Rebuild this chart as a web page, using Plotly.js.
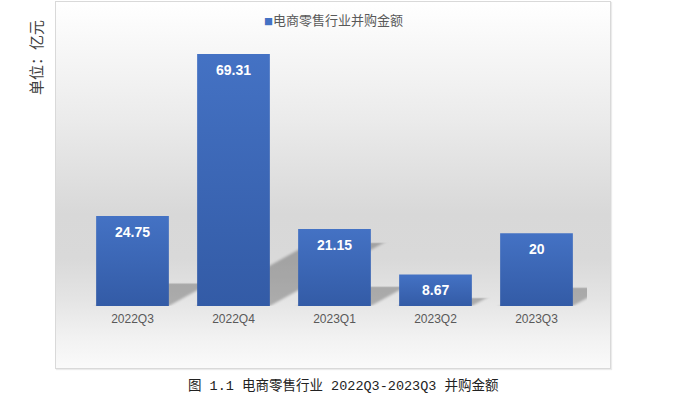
<!DOCTYPE html>
<html>
<head>
<meta charset="utf-8">
<script src="https://cdn.plot.ly/plotly-3.0.1.min.js"></script>
<style>
  html, body { margin: 0; padding: 0; background: #ffffff; }
  #frame {
    position: absolute; left: 55px; top: 1px; width: 554px; height: 366px;
    border: 1px solid #d9d9d9;
    box-shadow: 1px 1px 1px rgba(0,0,0,0.08);
    background: linear-gradient(to bottom, #ffffff 0%, #ebebeb 32%, #d8d8d8 58%, #d9d9d9 70%, #e4e4e4 81%, #f2f2f2 92%, #fafafa 100%);
  }
  #chart { position: absolute; left: 0; top: 0; width: 674px; height: 396px; }
</style>
</head>
<body>
<div id="frame"></div>
<div id="chart"></div>
<script>
const categories = ["2022Q3", "2022Q4", "2023Q1", "2023Q2", "2023Q3"];
const values = [24.75, 69.31, 21.15, 8.67, 20];
const valueLabels = ["24.75", "69.31", "21.15", "8.67", "20"];
const seriesName = "电商零售行业并购金额";
const yTitle = "单位：亿元";
const caption = "图 1.1 电商零售行业 2022Q3-2023Q3 并购金额";
const barColor = "#4472c4";

const trace = {
  type: "bar",
  x: categories,
  y: values,
  name: seriesName,
  marker: { color: "#3d69b9" },
  showlegend: false,
  hoverinfo: "skip"
};

const labelAnnotations = categories.map((c, i) => ({
  x: c, y: values[i], xref: "x", yref: "y",
  text: valueLabels[i], showarrow: false,
  yanchor: "middle", yshift: -16,
  font: { family: "Liberation Sans, Arial, sans-serif", size: 14, color: "#ffffff", weight: "bold" }
}));

const layout = {
  width: 674, height: 396,
  margin: { l: 82, r: 86.5, t: 15, b: 90, autoexpand: false },
  paper_bgcolor: "rgba(0,0,0,0)",
  plot_bgcolor: "rgba(0,0,0,0)",
  bargap: 0.28,
  showlegend: false,
  xaxis: {
    type: "category",
    showline: false, showgrid: false, zeroline: false, ticks: "",
    ticklabelstandoff: 4,
    tickfont: { family: "Liberation Sans, Arial, sans-serif", size: 12, color: "#595959" }
  },
  yaxis: {
    range: [0, 80], visible: false, showgrid: false, zeroline: false
  },
  annotations: labelAnnotations.concat([
    {
      xref: "paper", yref: "paper", x: 0.356, y: 0.983,
      text: "<span style='color:" + barColor + ";font-size:9px'>■</span>" + seriesName,
      showarrow: false, xanchor: "left", yanchor: "middle",
      font: { family: "Noto Sans CJK SC, sans-serif", size: 13, color: "#595959" }
    },
    {
      xref: "paper", yref: "paper", x: -0.093, y: 0.852,
      text: yTitle, showarrow: false, textangle: -90,
      xanchor: "center", yanchor: "middle",
      font: { family: "Noto Sans CJK SC, sans-serif", size: 15, color: "#404040" }
    },
    {
      xref: "paper", yref: "paper", x: 0.518, y: -0.275,
      text: caption, showarrow: false,
      xanchor: "center", yanchor: "middle",
      font: { family: "Liberation Mono, Noto Sans CJK SC, monospace", size: 13.5, color: "#222222" }
    }
  ])
};

Plotly.newPlot("chart", [trace], layout, { staticPlot: true, displayModeBar: false }).then(function (gd) {
  try {
    const svg = gd.querySelector("svg.main-svg");
    const ns = "http://www.w3.org/2000/svg";
    let defs = svg.querySelector("defs");
    if (!defs) { defs = document.createElementNS(ns, "defs"); svg.insertBefore(defs, svg.firstChild); }
    const g = document.createElementNS(ns, "linearGradient");
    g.setAttribute("id", "barGrad"); g.setAttribute("x1", "0"); g.setAttribute("y1", "0");
    g.setAttribute("x2", "0"); g.setAttribute("y2", "1");
    [["0%", "#4472c4"], ["100%", "#335ba6"]].forEach(function (s) {
      const st = document.createElementNS(ns, "stop");
      st.setAttribute("offset", s[0]); st.setAttribute("stop-color", s[1]);
      g.appendChild(st);
    });
    defs.appendChild(g);
    const f = document.createElementNS(ns, "filter");
    f.setAttribute("id", "shadowBlur");
    f.setAttribute("x", "-50%"); f.setAttribute("y", "-50%");
    f.setAttribute("width", "200%"); f.setAttribute("height", "200%");
    const blur = document.createElementNS(ns, "feGaussianBlur");
    blur.setAttribute("stdDeviation", "2.5");
    f.appendChild(blur);
    defs.appendChild(f);

    const paths = gd.querySelectorAll(".barlayer .point path");
    const traceGroup = gd.querySelector(".barlayer .trace");
    const shadowG = document.createElementNS(ns, "g");
    traceGroup.parentNode.insertBefore(shadowG, traceGroup);
    paths.forEach(function (p) {
      p.style.fill = "url(#barGrad)";
      const bb = p.getBBox();
      const B = bb.y + bb.height;
      const s = 0.25, k = 0.45;
      const sh = document.createElementNS(ns, "path");
      sh.setAttribute("d", p.getAttribute("d"));
      sh.setAttribute("transform", "matrix(1,0," + (-k) + "," + s + "," + (k * B) + "," + (B * (1 - s)) + ")");
      sh.setAttribute("fill", "rgba(0,0,0,0.25)");
      sh.setAttribute("filter", "url(#shadowBlur)");
      shadowG.appendChild(sh);
    });
  } catch (e) {}
});
</script>
</body>
</html>
